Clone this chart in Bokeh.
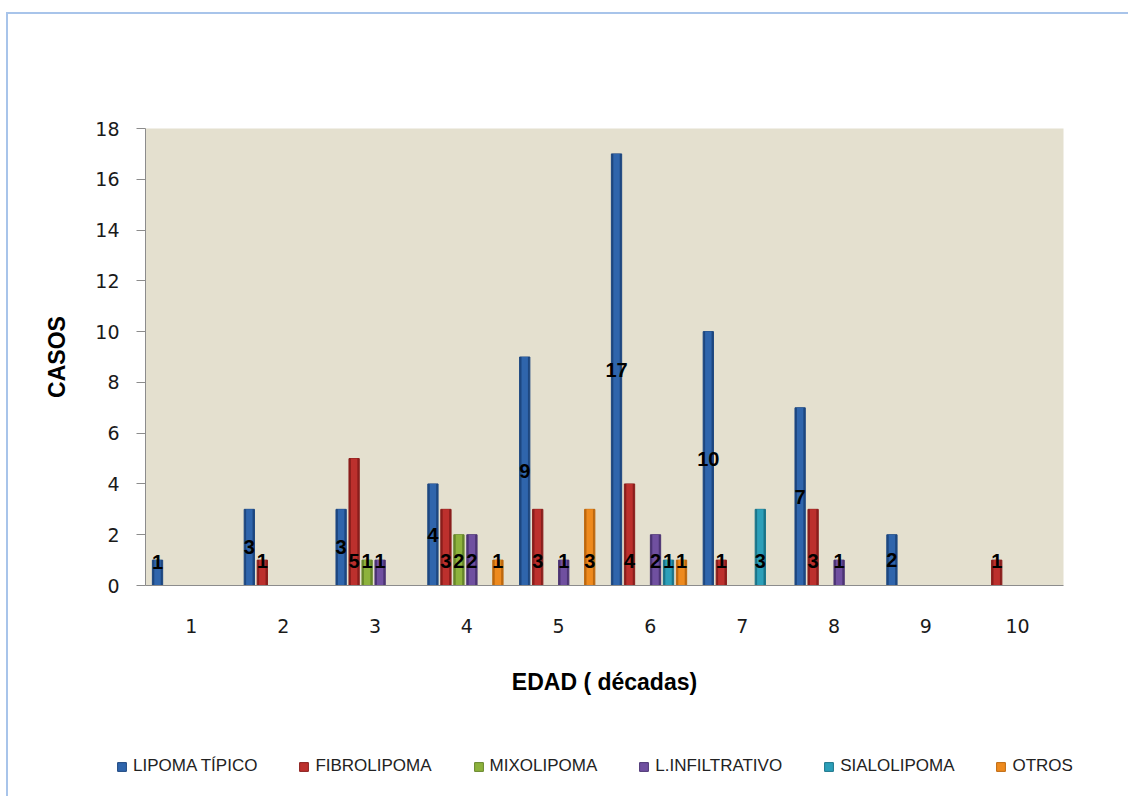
from bokeh.plotting import figure
from bokeh.models import ColumnDataSource, Range1d, FixedTicker, Legend, LegendItem
from bokeh.transform import dodge
from bokeh.core.properties import value
from bokeh.embed import file_html
from bokeh.resources import INLINE

# Age groups (decades) and case counts per lipoma type
decadas = [1, 2, 3, 4, 5, 6, 7, 8, 9, 10]
lipoma_tipico = [1, 3, 3, 4, 9, 17, 10, 7, 2, 0]
fibrolipoma = [0, 1, 5, 3, 3, 4, 1, 3, 0, 1]
mixolipoma = [0, 0, 1, 2, 0, 0, 0, 0, 0, 0]
l_infiltrativo = [0, 0, 1, 2, 1, 2, 0, 1, 0, 0]
sialolipoma = [0, 0, 0, 0, 0, 1, 3, 0, 0, 0]
otros = [0, 0, 0, 1, 3, 1, 0, 0, 0, 0]

series_names = ["LIPOMA TÍPICO", "FIBROLIPOMA", "MIXOLIPOMA",
                "L.INFILTRATIVO", "SIALOLIPOMA", "OTROS"]
series_values = [lipoma_tipico, fibrolipoma, mixolipoma,
                 l_infiltrativo, sialolipoma, otros]
y_ticks = [0, 2, 4, 6, 8, 10, 12, 14, 16, 18]

colors = ["#2F65AC", "#BC302D", "#8DB23C", "#7050A0", "#2C9FB9", "#EE8A1E"]
edges = ["#1D4780", "#8A1E1C", "#66862A", "#4C3474", "#1A7489", "#BD680E"]

W = 1128
H_MAIN, H_LEG = 730, 66
FRAME_LINE = "#A8C4EA"

p = figure(width=W, height=H_MAIN, output_backend="svg", toolbar_location=None,
           x_range=Range1d(0.5, 10.5), y_range=Range1d(0, 18),
           min_border_left=145, min_border_right=65,
           min_border_top=128, min_border_bottom=H_MAIN - 585)

p.background_fill_color = "#E4E0CF"
p.border_fill_alpha = 0
p.outline_line_color = None
p.grid.visible = False

# white page with a thin blue chart-area frame on the top and left
p.styles = {
    "background-color": "white",
    "background-image": (f"linear-gradient({FRAME_LINE}, {FRAME_LINE}), "
                         f"linear-gradient({FRAME_LINE}, {FRAME_LINE})"),
    "background-position": "6px 12px, 6px 12px",
    "background-size": "2px 100%, 100% 2px",
    "background-repeat": "no-repeat",
}

slot = 0.1416
first = -0.369
bar_w = 0.112
core_w = 0.07

for i, (name, vals) in enumerate(zip(series_names, series_values)):
    xs = [d for d, v in zip(decadas, vals) if v > 0]
    vs = [v for v in vals if v > 0]
    if i == 0:
        ly = [max(v / 2, 0.93) for v in vs]
    else:
        ly = [0.98 for v in vs]
    src = ColumnDataSource(dict(x=xs, top=vs, lab=[str(v) for v in vs], ly=ly))
    off = first + i * slot
    # darker bevelled edge, then the bar body
    p.vbar(x=dodge("x", off, range=p.x_range), top="top", bottom=0,
           width=bar_w, source=src, fill_color=edges[i],
           line_color=edges[i], line_width=1)
    p.vbar(x=dodge("x", off, range=p.x_range), top="top", bottom=0,
           width=core_w, source=src, fill_color=colors[i], line_color=None)
    p.text(x=dodge("x", off, range=p.x_range), y="ly", text="lab", source=src,
           text_align="center", text_baseline="middle",
           text_font=value("Liberation Sans"), text_font_style="bold",
           text_font_size="20px", text_color="black")

# axes
p.yaxis.ticker = FixedTicker(ticks=y_ticks)
p.xaxis.ticker = FixedTicker(ticks=decadas)
for ax in (p.xaxis[0], p.yaxis[0]):
    ax.axis_line_color = "#8C8C8C"
    ax.major_tick_line_color = "#8C8C8C"
    ax.minor_tick_line_color = None
    ax.major_label_text_font = "DejaVu Sans"
    ax.major_label_text_font_size = "19px"
    ax.major_label_text_color = "#1A1A1A"
    ax.axis_label_text_font = "Liberation Sans"
    ax.axis_label_text_font_style = "bold"
    ax.axis_label_text_font_size = "23px"
    ax.axis_label_text_color = "black"

p.yaxis.major_tick_out = 9
p.yaxis.major_tick_in = 0
p.yaxis.major_label_standoff = 17
p.yaxis.axis_label = "CASOS"
p.yaxis.axis_label_standoff = 22

p.xaxis.major_tick_out = 0
p.xaxis.major_tick_in = 0
p.xaxis.major_label_standoff = 33
p.xaxis.axis_label = "EDAD ( décadas)"
p.xaxis.axis_label_standoff = 33

# legend strip below the chart (its own canvas, frame spans the full width)
q = figure(width=W, height=H_LEG, output_backend="svg", toolbar_location=None,
           x_range=Range1d(0, 1), y_range=Range1d(0, 1),
           min_border_left=0, min_border_right=0, min_border_top=0,
           min_border_bottom=0, x_axis_type=None, y_axis_type=None)
q.background_fill_alpha = 0
q.border_fill_alpha = 0
q.outline_line_color = None
q.grid.visible = False
q.styles = {
    "background-color": "white",
    "background-image": f"linear-gradient({FRAME_LINE}, {FRAME_LINE})",
    "background-position": "6px 0px",
    "background-size": "2px 100%",
    "background-repeat": "no-repeat",
}

items = []
for i, name in enumerate(series_names):
    # key swatch renderer, kept outside the visible range
    key = q.quad(left=[-5.0], right=[-4.9], bottom=[0.0], top=[0.1],
                 fill_color=colors[i], line_color=edges[i], line_width=1)
    items.append(LegendItem(label=name, renderers=[key]))

legend = Legend(items=items, orientation="horizontal", location=(116, 20),
                padding=0, margin=0, spacing=41,
                glyph_width=11, glyph_height=11, label_standoff=6,
                label_height=11,
                border_line_color=None, background_fill_alpha=0,
                label_text_font="Liberation Sans", label_text_font_size="17px",
                label_text_color="#222222")
q.add_layout(legend, "center")

open("out.html", "w").write(file_html([p, q], INLINE))
